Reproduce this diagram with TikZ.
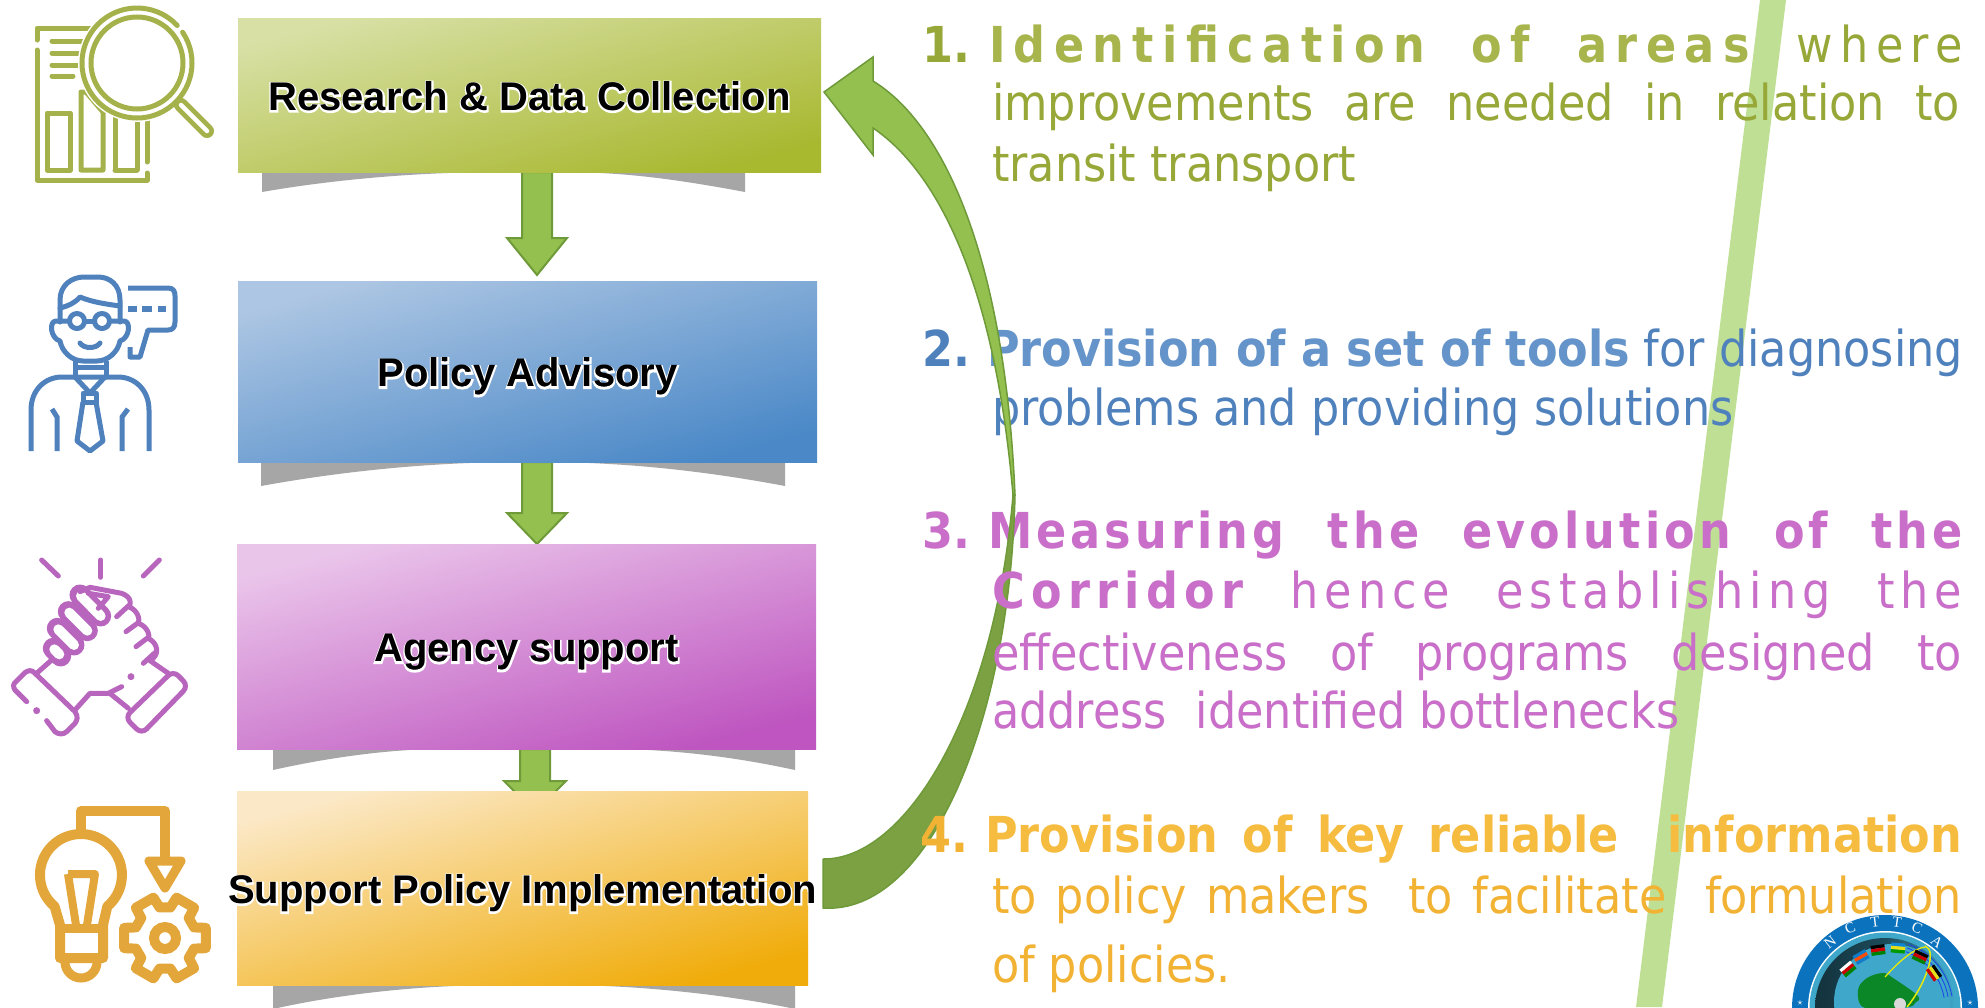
\documentclass[tikz,border=0pt]{standalone}
\usepackage{fontspec}
\setmainfont{Liberation Sans}
\newfontfamily\tfreg{DejaVu Sans Condensed}
\newfontfamily\tfbold{DejaVu Sans Condensed Bold}
\newfontfamily\tfregS{DejaVu Sans Condensed}[LetterSpace=12]
\newfontfamily\tfregW{DejaVu Sans Condensed}[LetterSpace=15]
\newfontfamily\tfboldI{DejaVu Sans Condensed Bold}[LetterSpace=17]
\newfontfamily\tfboldM{DejaVu Sans Condensed Bold}[LetterSpace=8.3]
\newfontfamily\tfboldC{DejaVu Sans Condensed Bold}[LetterSpace=13]
\newfontfamily\logofont{Liberation Serif}
\usetikzlibrary{calc}
\definecolor{icgreen}{HTML}{A5B14A}
\definecolor{icblue}{HTML}{4F81BD}
\definecolor{icpurple}{HTML}{B865BE}
\definecolor{icorange}{HTML}{E3A63A}
\definecolor{tgreen}{HTML}{98A838}
\definecolor{tgreenb}{HTML}{A8B44C}
\definecolor{tblue}{HTML}{4F81BD}
\definecolor{tblueb}{HTML}{6494C9}
\definecolor{tpurple}{HTML}{C96FC9}
\definecolor{torange}{HTML}{F2B233}
\definecolor{torangeb}{HTML}{F6BC40}
\definecolor{arfill}{HTML}{94C050}
\definecolor{ardark}{HTML}{7BA143}
\definecolor{arline}{HTML}{6F9A3A}
\definecolor{shgray}{HTML}{A6A6A6}
\definecolor{stripe}{HTML}{BFE094}
\definecolor{lgblue}{HTML}{0B72BD}
\definecolor{lgteal}{HTML}{3FA7C9}
\definecolor{gA}{HTML}{D8E0A5}\definecolor{gB}{HTML}{A8B82F}
\definecolor{bA}{HTML}{ADC6E3}\definecolor{bB}{HTML}{4A88C7}
\definecolor{pA}{HTML}{EAC5EA}\definecolor{pB}{HTML}{BE55C0}
\definecolor{oA}{HTML}{FBE8C6}\definecolor{oB}{HTML}{F0AC0A}
\newcommand{\glowtxt}[1]{\hbox to 0pt{\hss\raisebox{-15pt}[0pt][0pt]{\rlap{\raisebox{-1.2pt}{\special{pdf:code q 2 Tr 3 w 1 1 1 RG}#1\special{pdf:code Q}}}#1}\hss}}
\newcommand{\hjust}[2]{\hbox to #1pt{#2}}
\newcommand{\flagthree}[6]{%
 \begin{scope}[shift={(#1,#2)},rotate=#3]
  \fill[#4] (-7,-5) rectangle (7,-1.7);
  \fill[#5] (-7,-1.7) rectangle (7,1.7);
  \fill[#6] (-7,1.7) rectangle (7,5);
 \end{scope}}
\tikzset{
 stepbox/.style={inner sep=0pt,outer sep=0pt,font=\bfseries\fontsize{40}{44}\selectfont,text=black,anchor=north west},
 tl/.style={anchor=base west,inner sep=0pt,outer sep=0pt,font=\tfreg\fontsize{49.5}{55}\selectfont},
 blockar/.style={fill=arfill,draw=arline,line width=2pt,line join=miter},
 ic/.style={line width=5pt,line cap=round,line join=round},
 logoletter/.style={inner sep=0pt,text=white,font=\logofont\fontsize{15}{15}\selectfont},
}
\begin{document}
\begin{tikzpicture}[x=1pt,y=-1pt]
\useasboundingbox (0,0) rectangle (1985,1007);
\fill[white] (0,0) rectangle (1985,1007);

% stripe
\fill[stripe] (1760,0) -- (1786,0) -- (1662,1007) -- (1636,1007) -- cycle;

% shadows
\fill[shgray] (262,172) -- (262,192) .. controls (360,175) and (450,172) .. (500,172) -- (560,172) .. controls (620,172) and (670,178) .. (745,192) -- (745,172) -- cycle;
\fill[shgray] (261,462) -- (261,486) .. controls (360,468) and (450,462) .. (520,462) -- (540,462) .. controls (620,462) and (700,470) .. (785,486) -- (785,462) -- cycle;
\fill[shgray] (273,749) -- (273,770) .. controls (340,755) and (400,749) .. (440,749) -- (620,749) .. controls (680,750) and (740,758) .. (795,770) -- (795,749) -- cycle;
\fill[shgray] (273,985) -- (273,1009) .. controls (340,994) and (420,985) .. (500,985) -- (560,985) .. controls (640,985) and (730,995) .. (795,1009) -- (795,985) -- cycle;

% anchors for the block arrows
\coordinate (r1) at (537,172);
\coordinate (p2) at (537,281);
\coordinate (p1) at (537,462);
\coordinate (a2) at (537,544);
\coordinate (a1) at (535,749);
\coordinate (s2) at (535,800);

\draw[blockar] ($(r1)+(-15,0)$) -- ($(r1)+(15,0)$) -- ($(r1)+(15,66)$) -- ($(r1)+(30,66)$) -- ($(p2)+(0,-6)$) -- ($(r1)+(-30,66)$) -- ($(r1)+(-15,66)$) -- cycle;
\draw[blockar] ($(p1)+(-15,0)$) -- ($(p1)+(15,0)$) -- ($(p1)+(15,51)$) -- ($(p1)+(30,51)$) -- ($(a2)+(0,0)$) -- ($(p1)+(-30,51)$) -- ($(p1)+(-15,51)$) -- cycle;
\draw[blockar] ($(a1)+(-15,0)$) -- ($(a1)+(15,0)$) -- ($(a1)+(15,32)$) -- ($(a1)+(31,32)$) -- ($(s2)+(0,12)$) -- ($(a1)+(-31,32)$) -- ($(a1)+(-15,32)$) -- cycle;

% boxes
\node[stepbox,minimum width=583pt,minimum height=154pt,top color=gA,bottom color=gB,shading angle=15] (research) at (238,18) {\glowtxt{Research \& Data Collection}};
\node[stepbox,minimum width=579pt,minimum height=181pt,top color=bA,bottom color=bB,shading angle=15] (policy) at (238,281) {\glowtxt{Policy Advisory}};
\node[stepbox,minimum width=579pt,minimum height=205pt,top color=pA,bottom color=pB,shading angle=15] (agency) at (237,544) {\glowtxt{Agency support}};
\node[stepbox,minimum width=571pt,minimum height=194pt,top color=oA,bottom color=oB,shading angle=15] (support) at (237,791) {\glowtxt{Support Policy Implementation}};

% icon 1
\begin{scope}[icgreen]
\draw[ic] (90,28) -- (37,28) -- (37,40);
\draw[ic] (37,50) -- (37,180) -- (147,180) -- (147,173);
\draw[ic] (147,162) -- (147,115);
\draw[ic] (52,41) -- (85,41);
\draw[ic] (52,53) -- (85,53);
\draw[ic] (52,65) -- (85,65);
\draw[ic] (52,76) -- (73,76);
\draw[ic] (47,113) rectangle (70,170);
\draw[ic] (81,170) -- (81,92) -- (86,92) -- (103,112) -- (103,170) -- cycle;
\draw[ic] (115,170) -- (115,115) (137,170) -- (137,115) (115,170) -- (137,170);
\fill[white] (137,63) circle (59);
\draw[line width=5pt,line cap=round] (137,63)++(-34:55) arc (-34:317:55);
\draw[line width=5pt] (137,63) circle (46);
\draw[line width=14pt,line cap=round] (181,105) -- (207,131);
\draw[line width=4.5pt,line cap=round,white] (181,105) -- (207,131);
\end{scope}

% icon 2
\begin{scope}[icblue]
\draw[ic] (60,322) -- (60,300) .. controls (60,285) and (72,277) .. (84,277) -- (98,277) .. controls (110,277) and (120,285) .. (120,300) -- (120,322);
\draw[ic] (60,308) .. controls (68,306) and (75,303) .. (80,297) .. controls (92,302) and (105,304) .. (120,306);
\draw[ic] (77,321) circle (7.5);
\draw[ic] (102,321) circle (7.5);
\draw[ic] (85,321) -- (94,321);
\draw[ic] (69,321) -- (56,321) .. controls (49,321) and (50,338) .. (60,341) .. controls (62,352) and (72,361) .. (83,361) -- (97,361) .. controls (108,361) and (118,352) .. (120,341) .. controls (130,338) and (131,321) .. (124,321) -- (110,321);
\draw[ic] (80,343) .. controls (84,349) and (96,349) .. (100,343);
\draw[line width=5pt] (75,361) -- (75,377) (106,361) -- (106,377);
\draw[line width=5pt] (75,367) -- (106,367);
\draw[line width=5pt] (31,451) -- (31,410) .. controls (31,390) and (45,377) .. (62,377) -- (118,377) .. controls (135,377) and (149,390) .. (149,410) -- (149,451);
\draw[line width=5pt,line join=round] (75,377) -- (90,393) -- (105,377);
\draw[line width=5pt,line join=round] (83,393) rectangle (96,402);
\draw[line width=5pt,line join=round] (83,402) -- (77,441) -- (90,451) -- (103,441) -- (96,402);
\draw[line width=5pt] (52,409) -- (57,417) -- (57,451);
\draw[line width=5pt] (128,409) -- (122,417) -- (122,451);
\draw[line width=5pt,line join=round] (128,288) -- (168,288) .. controls (174,288) and (175,292) .. (175,296) -- (175,322) .. controls (175,328) and (172,330) .. (168,330) -- (148,330) -- (140,357) -- (130,357) -- (130,347);
\draw[line width=6pt] (128,309) -- (137,309) (142,309) -- (152,309) (158,309) -- (166,309);
\end{scope}

% icon 3
\begin{scope}[icpurple,shift={(0,500)},x=0.3333pt,y=-0.3333pt]
\draw[ic] (125,180) -- (175,228);
\draw[ic] (302,180) -- (302,232);
\draw[ic] (478,180) -- (430,228);
\foreach \ax/\ay/\bx/\by in {160/445/182/468,172/385/222/435,205/335/262/392,240/285/302/348}{
 \draw[line width=21pt,line cap=round] (\ax,\ay) -- (\bx,\by);
}
\foreach \ax/\ay/\bx/\by in {163/448/178/463,175/388/222/435,208/338/262/392,243/288/302/348}{
 \draw[line width=10pt,line cap=round,white] (\ax,\ay) -- (\bx,\by);
}
\draw[ic] (110,520) -- (155,480);
\draw[ic] (240,275) -- (270,262) -- (365,280) .. controls (395,290) and (395,315) .. (385,320) .. controls (415,330) and (420,360) .. (415,370) .. controls (445,380) and (450,410) .. (445,415) .. controls (475,430) and (480,465) .. (450,482) -- (505,520);
\draw[ic] (350,350) -- (385,318);
\draw[ic] (378,395) -- (415,368);
\draw[ic] (408,440) -- (445,412);
\draw[ic] (430,490) -- (465,458);
\draw[ic] (265,280) -- (325,290) -- (295,325);
\draw[ic] (80,605) -- (45,570) .. controls (38,560) and (40,550) .. (48,545) -- (75,518) .. controls (85,510) and (95,510) .. (103,518) -- (225,635) .. controls (235,650) and (232,660) .. (225,670) -- (200,695) .. controls (190,705) and (175,703) .. (165,695) -- (140,662);
\fill (110,632) circle (3.5pt);
\fill (393,530) circle (3.5pt);
\draw[ic,rounded corners=7pt] (520,512) -- (565,558) -- (425,702) -- (375,652) -- cycle;
\draw[ic] (225,630) -- (270,580) -- (325,580) -- (365,560);
\draw[ic] (332,582) -- (385,625);
\end{scope}

% icon 4
\begin{scope}[icorange]
\draw[line width=10pt,line join=round] (81,835) -- (81,811) -- (165,811) -- (165,860);
\draw[line width=9pt,line join=round] (149,861) -- (181,861) -- (165,888) -- cycle;
\draw[line width=10pt,line join=round] (60,958) -- (60,925) -- (54.6,906.4) arc (130:410:41) -- (103,925) -- (103,958) -- cycle;
\draw[line width=9pt] (60,928) -- (103,928);
\draw[line width=8pt,line join=round] (68,874) -- (95,874) -- (87,925);
\draw[line width=8pt,line join=round] (68,874) -- (76,925);
\draw[line width=9pt] (65,962) arc (180:0:16);
\begin{scope}[shift={(165,938)}]
\draw[line width=10pt,line join=round] (-14:42) \foreach \a in {0,60,...,300}{ -- (\a-14:42) -- (\a+14:42) -- (\a+20:31) -- (\a+40:31)} -- cycle;
\draw[line width=10pt] (0,0) circle (11);
\end{scope}
\end{scope}

% texts under the long arrow
\node[tl,text=tblue,font=\tfbold\fontsize{49.5}{55}\selectfont] (n2) at (922,366) {2.};
\node[tl,text=tblueb,font=\tfbold\fontsize{49.5}{55}\selectfont] (l21) at (987,366) {\hjust{976}{Provision of a set of tools\hfill{\tfreg\color{tblue}for diagnosing}}};
\node[tl,text=tblue] (l22) at (992,425) {problems and providing solutions};
\node[tl,text=tpurple,font=\tfbold\fontsize{49.5}{55}\selectfont] (n3) at (922,548) {3.};
\node[tl,text=tpurple,font=\tfboldM\fontsize{49.5}{55}\selectfont] (l31) at (988,548) {\hjust{975}{Measuring\hfill the\hfill evolution\hfill of\hfill the}};

% long curved arrow
\coordinate (tailA) at ($(support.east)+(15,-29)$);
\coordinate (tailB) at ($(support.east)+(15,20)$);
\coordinate (tipR) at ($(research.east)+(3,-3)$);
\coordinate (pinchO) at (1015,495);
\coordinate (pinchI) at (1013,495);
\draw[fill=ardark,draw=arline,line width=1.5pt,line join=round]
 (tailB) .. controls (930,915) and (1010,720) .. (pinchO) -- (pinchI)
 .. controls (995,715) and (905,860) .. (tailA) -- cycle;
\draw[fill=arfill,draw=arline,line width=1.5pt,line join=miter]
 (pinchO) .. controls (1005,260) and (945,125) .. (873,81)
 -- (873,57) -- (tipR) -- (873,155) -- (873,128)
 .. controls (938,172) and (995,285) .. (pinchI) -- cycle;

% remaining text
\node[tl,text=tgreen,font=\tfbold\fontsize{49.5}{55}\selectfont] (n1) at (922,62) {1.};
\node[tl,text=tgreenb,font=\tfboldI\fontsize{49.5}{55}\selectfont] (l11) at (989,62) {\hjust{974}{Identification\hfill of\hfill areas\hfill{\tfregW\color{tgreen}where}}};
\node[tl,text=tgreen] (l12) at (992,120) {\hjust{968}{improvements\hfill are\hfill needed\hfill in\hfill relation\hfill to}};
\node[tl,text=tgreen] (l13) at (992,181) {transit transport};
\node[tl,text=tpurple,font=\tfboldC\fontsize{49.5}{55}\selectfont] (l32) at (992,608) {\hjust{970}{Corridor\hfill{\tfregS hence}\hfill{\tfregS establishing}\hfill{\tfregS the}}};
\node[tl,text=tpurple] (l33) at (992,670) {\hjust{970}{effectiveness\hfill of\hfill programs\hfill designed\hfill to}};
\node[tl,text=tpurple] (l34) at (992,728) {address\hspace{.3em} identified bottlenecks};
\node[tl,text=torange,font=\tfbold\fontsize{49.5}{55}\selectfont] (n4) at (920,852) {4.};
\node[tl,text=torangeb,font=\tfbold\fontsize{49.5}{55}\selectfont] (l41) at (985,852) {\hjust{977}{Provision\hfill of\hfill key\hfill reliable\hfill\hfill information}};
\node[tl,text=torange] (l42) at (992,913) {\hjust{970}{to\hfill policy\hfill makers\hfill\hfill to\hfill facilitate\hfill\hfill formulation}};
\node[tl,text=torange] (l43) at (992,982) {of policies.};

% logo
\begin{scope}
\clip (1780,900) rectangle (1985,1007);
\fill[lgblue] (1885,1008) circle (93);
\fill[white] (1885,1008) circle (77);
\fill[lgteal] (1885,1008) circle (75.5);
\shade[left color=black!70!lgteal,right color=lgteal,middle color=black!55!lgteal] (1885,1008) circle (70);
\fill[lgteal] (1892,1002) circle (58);
\foreach \r in {60,64,68}{\draw[blue!60!lgteal,line width=.8pt] (1885,1008)++(-10:\r) arc (-10:-70:\r);}
\fill[green!50!black!80!lgteal] plot[smooth cycle,tension=.6] coordinates {(1858,990) (1867,978) (1883,973) (1893,978) (1918,996) (1915,1003) (1907,1007) (1865,1008)};
\fill[white!70!gray] (1900,1004) circle (6);
\draw[yellow!90!green,line width=1.3pt] (1885,977) .. controls (1900,960) and (1915,948) .. (1925,947);
\draw[yellow!90!green,line width=1.5pt] (1925,946) .. controls (1938,950) and (1925,985) .. (1907,1007);
\flagthree{1848}{969}{40}{white}{red!80!black}{green!50!black}
\flagthree{1861}{957}{30}{cyan!60!blue}{red!70!yellow}{cyan!60!blue}
\flagthree{1878}{950}{8}{black}{red!80!black}{green!50!black}
\flagthree{1898}{948}{-5}{cyan!70!blue}{yellow!90!black}{green!60!black}
\flagthree{1920}{957}{-25}{black}{red!80!black}{green!50!black}
\flagthree{1934}{973}{-55}{black}{yellow!90!black}{red!80!black}
\node[logoletter,rotate=38] (lN) at (1830,942) {N};
\node[logoletter,rotate=23] (lC) at (1850,928) {C};
\node[logoletter,rotate=7] (lT) at (1875,922) {T};
\node[logoletter,rotate=-8] (lTT) at (1897,922) {T};
\node[logoletter,rotate=-23] (lCC) at (1917,928) {C};
\node[logoletter,rotate=-38] (lA) at (1937,942) {A};
\node[logoletter,font=\fontsize{11}{11}\selectfont] (s1) at (1800,1003) {$\star$};
\node[logoletter,font=\fontsize{11}{11}\selectfont] (s2b) at (1970,1003) {$\star$};
\end{scope}
\end{tikzpicture}
\end{document}
